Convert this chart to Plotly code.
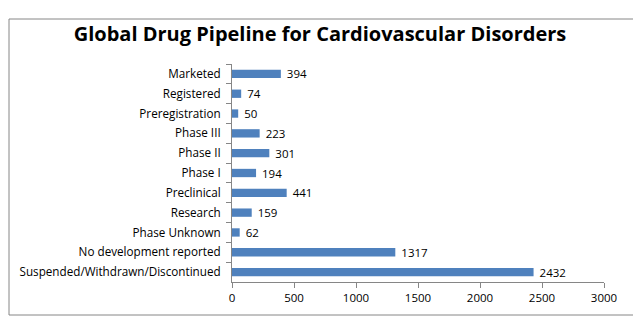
import plotly.graph_objects as go

categories = ["Marketed", "Registered", "Preregistration", "Phase III", "Phase II", "Phase I",
              "Preclinical", "Research", "Phase Unknown", "No development reported",
              "Suspended/Withdrawn/Discontinued"]
values = [394, 74, 50, 223, 301, 194, 441, 159, 62, 1317, 2432]
x_ticks = [0, 500, 1000, 1500, 2000, 2500, 3000]

OFF = 8  # default page body margin
W, H = 641 - OFF, 325 - OFF
L, T = 232 - OFF, 64 - OFF
R, B = W - (604 - OFF), H - (282 - OFF)
pw, ph = W - L - R, H - T - B
FONT = "Open Sans"

fig = go.Figure(go.Bar(
    y=categories, x=values, orientation="h",
    marker=dict(color="#4F81BD", line=dict(width=0)),
    width=0.42,
    text=values, texttemplate=" %{x}", textposition="outside",
    constraintext="none",
    textfont=dict(family=FONT, size=11.5, color="#000000"),
    cliponaxis=False,
))

fig.update_layout(
    width=W, height=H,
    margin=dict(l=L, r=R, t=T, b=B, autoexpand=False),
    paper_bgcolor="white", plot_bgcolor="white",
    showlegend=False,
    title=dict(text="<b>Global Drug Pipeline for Cardiovascular Disorders</b>",
               x=(320 - OFF) / W, xref="container", xanchor="center",
               y=1 - (34 - OFF) / H, yref="container", yanchor="middle",
               font=dict(family=FONT, size=20, color="#000000")),
    font=dict(family=FONT, size=11.7, color="#000000"),
    xaxis=dict(range=[0, 3000], tickvals=x_ticks, showgrid=False, zeroline=False,
               showline=True, linecolor="#868686", linewidth=1, automargin=False,
               ticks="outside", ticklen=5, tickcolor="#868686",
               tickfont=dict(family=FONT, size=11.5), fixedrange=True),
    yaxis=dict(categoryorder="array", categoryarray=categories, autorange="reversed",
               showgrid=False, zeroline=False, showline=True, linecolor="#868686",
               linewidth=1, ticks="outside", ticklen=5, tickcolor="#868686",
               tickson="boundaries", ticklabelstandoff=8, automargin=False,
               tickfont=dict(family=FONT, size=11.7)),
    shapes=[dict(type="rect", xref="paper", yref="paper",
                 x0=(9 - 232) / pw, x1=(634 - 232) / pw,
                 y0=1 - (315 - 64) / ph, y1=1 - (19 - 64) / ph,
                 line=dict(color="#868686", width=1), fillcolor="rgba(0,0,0,0)", layer="below")],
)

fig.write_html("out.html")
